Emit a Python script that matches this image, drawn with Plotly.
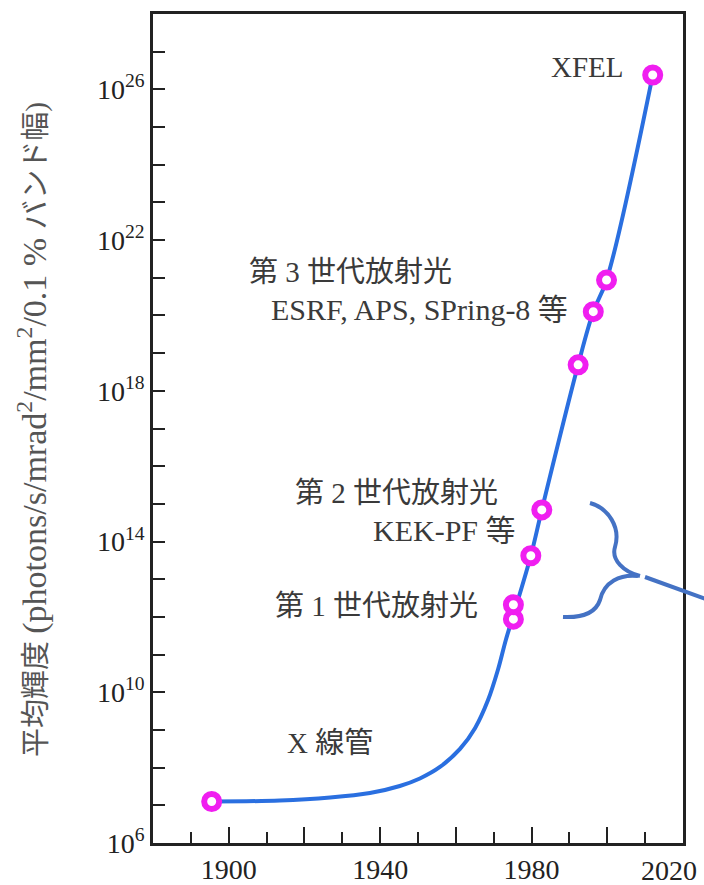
import plotly.graph_objects as go

# Light-source milestones (year, average brightness)
source_years = [1895.5, 1975.2, 1975.2, 1979.8, 1982.7, 1992.3, 1996.3, 1999.8, 2012.0]
source_brightness = [1.26e7, 8.7e11, 2.1e12, 4.2e13, 6.9e14, 4.9e18, 1.26e20, 8.7e20, 2.4e26]

# Guide curve through the history of X-ray sources
trend_years = [1895.5, 1913.5, 1926.8, 1937.3, 1945.2, 1950.5, 1955.8, 1961.1, 1965.1,
               1968.5, 1971.1, 1973.2, 1975.2, 1979.8, 1982.7, 1992.3, 1996.3, 1999.8, 2012.0]
trend_brightness = [1.26e7, 1.34e7, 1.61e7, 2.12e7, 3.26e7, 5.15e7, 1.04e8, 3.13e8, 1.13e9,
                    6.2e9, 3.9e10, 2.45e11, 1.12e12, 4.2e13, 6.9e14, 4.9e18, 1.26e20, 8.7e20, 2.4e26]

x_tick_years = [1900, 1920, 1940, 1960, 1980, 2000, 2020]
x_tick_labels = ["1900", "", "1940", "", "1980", "", ""]
x_end_label = "2020"
y_tick_exponents = list(range(6, 29))
y_label_exponents = [6, 10, 14, 18, 22, 26]

group_labels = ["XFEL", "第 3 世代放射光", "ESRF, APS, SPring-8 等",
                "第 2 世代放射光", "KEK-PF 等", "第 1 世代放射光", "X 線管"]
y_title_parts = ["平均輝度 ",
                 "(photons/s/mrad<sup>2</sup>/mm<sup>2</sup>/0.1 % ",
                 "バンド幅)"]

W, H = 704, 885
L, R, T, B = 153, 21, 14, 42
PW, PH = W - L - R, H - T - B

SERIF = "Liberation Serif, Noto Sans CJK JP, serif"
INK = "#222222"
TEXT = "#3a3a3a"
LINE_BLUE = "#2a6fe0"
RING = "#f01ef0"
BRACE = "#4472c4"


def paper(px, py):
    """Pixel position in the page -> paper coordinates."""
    return (px - L) / PW, (H - B - py) / PH


def path_from(segments):
    parts = []
    for cmd, pts in segments:
        coords = " ".join("%.5f,%.5f" % paper(*p) for p in pts)
        parts.append(cmd + " " + coords)
    return " ".join(parts)


fig = go.Figure()

fig.add_trace(go.Scatter(
    x=trend_years, y=trend_brightness, mode="lines",
    line=dict(color=LINE_BLUE, width=4, shape="spline", smoothing=1.0),
    hoverinfo="skip", showlegend=False,
))
fig.add_trace(go.Scatter(
    x=source_years, y=source_brightness, mode="markers",
    marker=dict(symbol="circle", size=15, color="white",
                line=dict(color=RING, width=6)),
    showlegend=False,
))

# Text labels for each generation of sources
label_specs = [
    (group_labels[0], 2004.9, 26.59, "right", 29),
    (group_labels[1], 1904.8, 21.15, "left", 29),
    (group_labels[2], 1990.1, 20.15, "right", 30),
    (group_labels[3], 1917.0, 15.29, "left", 29),
    (group_labels[4], 1976.4, 14.28, "right", 30),
    (group_labels[5], 1966.4, 12.29, "right", 29),
    (group_labels[6], 1926.8, 8.65, "center", 29),
]
annotations = []
for text, xv, yv, anchor, size in label_specs:
    annotations.append(dict(
        text=text, x=xv, y=yv, xref="x", yref="y", xanchor=anchor,
        yanchor="middle", showarrow=False,
        font=dict(family=SERIF, size=size, color=TEXT),
    ))

# Last year label sits just inside the page edge
ex, ey = paper(669, 870)
annotations.append(dict(
    text=x_end_label, x=ex, y=ey, xref="paper", yref="paper",
    xanchor="center", yanchor="middle", showarrow=False,
    font=dict(family=SERIF, size=28, color=INK),
))

y_title = (y_title_parts[0]
           + '<span style="font-size:34px">' + y_title_parts[1] + "</span>"
           + y_title_parts[2])
tx, ty = paper(32, 430)
annotations.append(dict(
    text=y_title, x=tx, y=ty, xref="paper", yref="paper",
    xanchor="center", yanchor="middle", textangle=-90, showarrow=False,
    font=dict(family=SERIF, size=29, color="#555555"),
))

# Curly brace grouping the first two generations, with its pointer line
brace_upper = path_from([
    ("M", [(590, 503)]),
    ("C", [(608, 508), (621, 527), (615, 547)]),
    ("C", [(611, 560), (624, 572), (640, 576)]),
])
brace_lower = path_from([
    ("M", [(638, 576)]),
    ("C", [(620, 574), (604, 582), (600, 600)]),
    ("C", [(596, 612), (585, 618), (563, 617)]),
])
pointer = path_from([("M", [(645, 577)]), ("L", [(706, 599)])])
shapes = [
    dict(type="path", path=p, xref="paper", yref="paper",
         line=dict(color=BRACE, width=4), layer="above")
    for p in (brace_upper, brace_lower, pointer)
]

fig.update_layout(
    width=W, height=H,
    margin=dict(l=L, r=R, t=T, b=B, autoexpand=False),
    paper_bgcolor="white", plot_bgcolor="white",
    annotations=annotations, shapes=shapes,
    xaxis=dict(
        range=[1880, 2020], showgrid=False, zeroline=False, automargin=False,
        showline=True, linecolor=INK, linewidth=2.5, mirror=True,
        ticks="inside", ticklen=16, tickwidth=2, tickcolor=INK,
        tickvals=x_tick_years, ticktext=x_tick_labels,
        tickfont=dict(family=SERIF, size=28, color=INK),
        minor=dict(ticks="inside", dtick=10, ticklen=11, tickwidth=2,
                   tickcolor=INK, showgrid=False),
    ),
    yaxis=dict(
        type="log", range=[6, 28], showgrid=False, zeroline=False, automargin=False,
        showline=True, linecolor=INK, linewidth=2.5, mirror=True,
        ticks="inside", ticklen=12, tickwidth=2, tickcolor=INK,
        tickvals=[10.0 ** e for e in y_tick_exponents],
        ticktext=["10<sup>%d</sup>" % e if e in y_label_exponents else ""
                  for e in y_tick_exponents],
        tickfont=dict(family=SERIF, size=28, color=INK),
    ),
)

fig.write_html("out.html")
